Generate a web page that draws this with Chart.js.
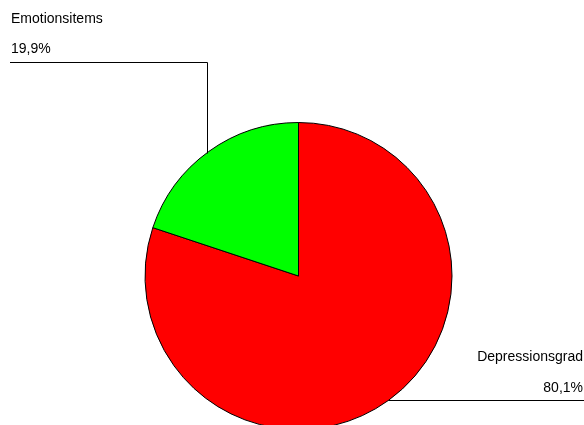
<!DOCTYPE html>
<html>
<head>
<meta charset="utf-8">
<script src="https://cdn.jsdelivr.net/npm/chart.js@4/dist/chart.umd.min.js"></script>
<style>
  html, body { margin: 0; padding: 0; background: #fff; overflow: hidden; }
  #wrap { position: relative; width: 584px; height: 460px; }
</style>
</head>
<body>
<div id="wrap"><canvas id="chart"></canvas></div>
<script>
// data
const categories = ['Depressionsgrad', 'Emotionsitems'];
const shares = [80.1, 19.9];
const sliceColors = ['#ff0000', '#00ff00'];

const fmtPct = v => v.toFixed(1).replace('.', ',') + '%';

// leader lines + labels, anchored on the rim of each slice
const leaderLabels = {
    id: 'leaderLabels',
    afterDatasetsDraw(chart) {
        const ctx = chart.ctx;
        const arcs = chart.getDatasetMeta(0).data;
        ctx.save();
        ctx.strokeStyle = '#000';
        ctx.lineWidth = 1;
        ctx.fillStyle = '#000';
        ctx.font = '14px "Liberation Sans", Arial, sans-serif';
        ctx.textBaseline = 'middle';

        arcs.forEach((arc, i) => {
            const p = arc.getProps(['x', 'y', 'outerRadius', 'startAngle', 'endAngle'], true);
            const mid = (p.startAngle + p.endAngle) / 2;
            const ax = p.x + Math.cos(mid) * p.outerRadius;
            const ay = p.y + Math.sin(mid) * p.outerRadius;
            ctx.beginPath();
            if (i === 0) {
                // right side: horizontal line out to the edge
                const ly = Math.round(ay) + 0.5;
                ctx.moveTo(ax, ly);
                ctx.lineTo(chart.width, ly);
                ctx.stroke();
                ctx.textAlign = 'right';
                ctx.fillText(categories[i], 583, ly - 43);
                ctx.fillText(fmtPct(shares[i]), 583, ly - 12);
            } else {
                // upper left: vertical up then left
                const vx = Math.round(ax) - 1.5;
                ctx.moveTo(vx, ay + 2);
                ctx.lineTo(vx, 62.5);
                ctx.lineTo(10, 62.5);
                ctx.stroke();
                ctx.textAlign = 'left';
                ctx.fillText(categories[i], 11, 19);
                ctx.fillText(fmtPct(shares[i]), 11, 49);
            }
        });
        ctx.restore();
    }
};

new Chart(document.getElementById('chart'), {
    type: 'pie',
    data: {
        labels: categories,
        datasets: [{
            data: shares,
            backgroundColor: sliceColors,
            borderColor: '#000',
            borderWidth: 1
        }]
    },
    options: {
        responsive: true,
        maintainAspectRatio: false,
        animation: false,
        layout: { padding: { left: 144, right: 131, top: 122, bottom: 30 } },
        plugins: {
            legend: { display: false },
            tooltip: { enabled: false }
        }
    },
    plugins: [leaderLabels]
});
</script>
</body>
</html>
